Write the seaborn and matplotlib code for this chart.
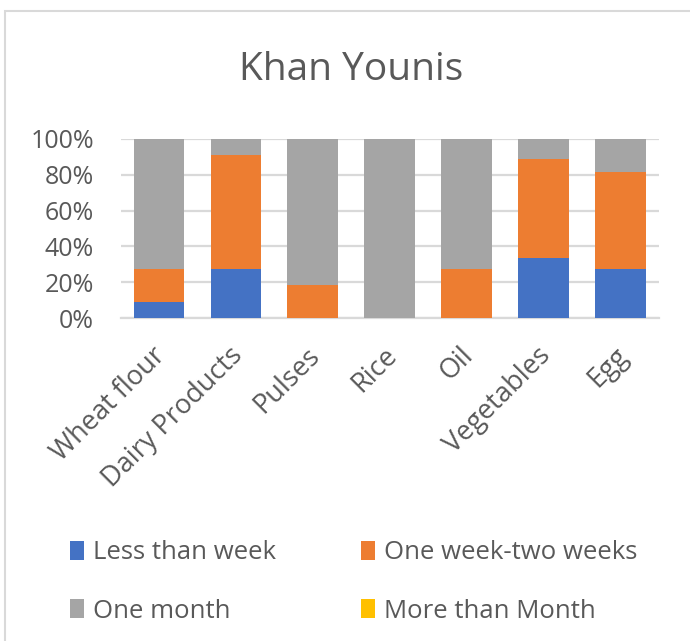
import matplotlib
matplotlib.use("Agg")
import matplotlib.pyplot as plt
import matplotlib.transforms as mtransforms
from matplotlib.patches import Patch, Rectangle
import seaborn as sns
import pandas as pd
import numpy as np

categories = ["Wheat flour", "Dairy Products", "Pulses", "Rice", "Oil", "Vegetables", "Egg"]
less_than_week = [9.1, 27.3, 0.0, 0.0, 0.0, 33.3, 27.3]
one_to_two_weeks = [18.2, 63.6, 18.2, 0.0, 27.3, 55.6, 54.5]
one_month = [72.7, 9.1, 81.8, 100.0, 72.7, 11.1, 18.2]
more_than_month = [0.0, 0.0, 0.0, 0.0, 0.0, 0.0, 0.0]
series_names = ["Less than week", "One week-two weeks", "One month", "More than Month"]
colors = ["#4472C4", "#ED7D31", "#A5A5A5", "#FFC000"]
yticks = [0, 20, 40, 60, 80, 100]
ytick_labels = ["0%", "20%", "40%", "60%", "80%", "100%"]

sns.set_theme(style="white")
plt.rcParams["font.family"] = ["Open Sans", "DejaVu Sans"]
text_color = "#595959"

fig = plt.figure(figsize=(6.9, 6.41), dpi=100)
ax = fig.add_axes([120.5 / 690, 1 - 318 / 641, (659 - 120.5) / 690, (318 - 139) / 641])

series = [less_than_week, one_to_two_weeks, one_month, more_than_month]
cum = np.cumsum(np.array(series), axis=0)
df = pd.DataFrame({"category": categories})
for i in range(3):
    df[f"cum{i}"] = cum[i]

for i in [2, 1, 0]:
    sns.barplot(data=df, x="category", y=f"cum{i}", color=colors[i], ax=ax,
                width=0.66, linewidth=0, saturation=1, zorder=3, errorbar=None)

ax.set_ylim(0, 100)
ax.set_xlim(-0.5, len(categories) - 0.5)
ax.set_yticks(yticks)
ax.set_yticklabels(ytick_labels)
ax.yaxis.grid(True, color="#D9D9D9", linewidth=1.6, zorder=0)
ax.set_axisbelow(True)
for s in ["top", "right", "left"]:
    ax.spines[s].set_visible(False)
ax.spines["bottom"].set_color("#D9D9D9")
ax.spines["bottom"].set_linewidth(1.6)
ax.set_xlabel("")
ax.set_ylabel("")
ax.tick_params(axis="y", length=0, colors=text_color, labelsize=18, pad=19)
ax.tick_params(axis="x", length=0, colors=text_color, labelsize=19.5, pad=10)
offset = mtransforms.ScaledTranslation(-0.07, -0.10, fig.dpi_scale_trans)
for lab in ax.get_xticklabels():
    lab.set_rotation(45)
    lab.set_ha("right")
    lab.set_rotation_mode("anchor")
    lab.set_transform(lab.get_transform() + offset)

fig.text(351 / 690, 1 - 70 / 641, "Khan Younis", ha="center", va="center",
         fontsize=28, color=text_color)

handles = [Patch(facecolor=c, edgecolor="none") for c in colors]
order = [0, 2, 1, 3]
leg = fig.legend([handles[i] for i in order], [series_names[i] for i in order],
                 ncol=2, loc="upper left", bbox_to_anchor=(47 / 690, 1 - 517 / 641),
                 frameon=False, fontsize=18.5, handlelength=0.55, handleheight=0.75,
                 handletextpad=0.35, columnspacing=3.3, labelspacing=1.3,
                 labelcolor=text_color)

fig.patches.append(Rectangle((5 / 690, -0.1), 2, 1 - 11 / 641 + 0.1,
                             transform=fig.transFigure, fill=False,
                             edgecolor="#D9D9D9", linewidth=1.5))

fig.savefig("out.png", dpi=100, facecolor="white")
